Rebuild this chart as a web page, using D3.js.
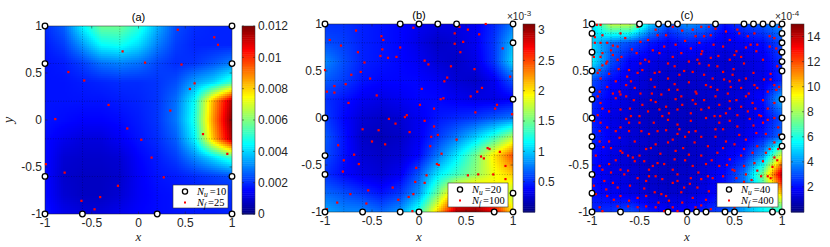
<!DOCTYPE html>
<html><head><meta charset="utf-8">
<script src="https://cdn.jsdelivr.net/npm/d3@7"></script>
<style>body{margin:0;background:#fff}svg{display:block}</style>
</head><body>
<svg id="chart" width="830" height="247"></svg>
<script>
// ---------------- DATA ----------------
const axisTicks = [-1, -0.5, 0, 0.5, 1];
const axisTickLabels = ["-1", "-0.5", "0", "0.5", "1"];
const gridX = [-1, -0.8, -0.6, -0.4, -0.2, 0, 0.2, 0.4, 0.6, 0.8, 1];
const gridY = [1, 0.8, 0.6, 0.4, 0.2, 0, -0.2, -0.4, -0.6, -0.8, -1];

// error field (a), units 1e-3
const fieldA = [
 [2.0,2.6,4.4,5.8,5.8,5.0,3.6,2.4,2.0,1.9,1.9],
 [1.8,2.2,3.3,4.5,4.7,4.1,3.0,2.2,1.9,1.9,1.9],
 [1.7,1.8,2.2,2.8,3.0,2.8,2.3,2.0,2.1,2.5,3.0],
 [1.7,1.7,1.8,1.9,2.0,2.0,2.1,2.4,3.4,4.0,5.2],
 [1.7,1.7,1.7,1.7,1.8,1.9,2.1,2.8,4.6,8.5,11.5],
 [1.7,1.6,1.5,1.5,1.6,1.8,2.1,2.9,4.8,8.8,12.0],
 [1.6,1.3,1.1,1.1,1.4,1.7,2.0,2.6,4.4,8.3,11.5],
 [1.6,1.0,0.9,0.9,1.0,1.5,1.8,2.2,3.1,4.1,5.2],
 [1.6,0.9,0.8,0.8,0.9,1.4,1.7,1.8,2.0,2.2,2.4],
 [1.6,1.0,0.8,0.8,1.0,1.4,1.6,1.7,1.8,1.9,2.0],
 [1.7,1.3,1.1,1.1,1.3,1.5,1.6,1.7,1.8,1.8,1.9]
];
// error field (b), units 1e-3
const fieldB = [
 [0.53,0.53,0.48,0.44,0.4,0.35,0.31,0.31,0.35,0.5,0.75],
 [0.62,0.57,0.48,0.44,0.4,0.31,0.22,0.26,0.35,0.55,0.95],
 [0.8,0.62,0.48,0.44,0.4,0.35,0.26,0.22,0.31,0.55,1.05],
 [0.66,0.57,0.44,0.4,0.4,0.4,0.35,0.26,0.22,0.35,0.65],
 [0.53,0.44,0.35,0.31,0.35,0.4,0.4,0.35,0.31,0.31,0.36],
 [0.57,0.4,0.26,0.22,0.26,0.35,0.45,0.5,0.55,0.65,0.75],
 [0.66,0.44,0.22,0.18,0.22,0.35,0.55,0.75,1.0,1.3,1.7],
 [0.62,0.44,0.26,0.22,0.26,0.4,0.75,1.1,1.5,2.0,2.5],
 [0.53,0.4,0.31,0.26,0.35,0.65,1.1,1.35,1.6,1.9,2.1],
 [0.7,0.62,0.53,0.44,0.55,0.85,1.5,2.2,2.3,2.0,1.7],
 [0.9,0.8,0.8,0.7,0.85,1.3,2.1,3.0,3.1,2.8,2.0]
];
// error field (c), units 1e-4
const fieldC = [
 [5.0,8.5,8.5,5.0,3.0,4.0,3.5,2.0,2.8,3.2,4.0],
 [5.0,3.5,3.0,2.2,1.8,2.2,2.0,1.5,1.8,2.0,3.0],
 [5.5,3.0,1.8,1.5,1.3,1.3,1.3,1.2,1.3,1.6,2.6],
 [3.0,2.0,1.5,1.2,1.1,1.1,1.2,1.2,1.2,1.5,2.4],
 [2.5,1.7,1.3,1.1,1.0,1.0,1.1,1.2,1.4,2.0,4.5],
 [2.3,1.5,1.2,1.0,1.0,1.0,1.1,1.2,1.3,1.8,3.0],
 [2.5,1.7,1.3,1.1,1.0,1.0,1.1,1.2,1.5,2.2,3.5],
 [2.1,1.5,1.2,1.1,1.0,1.0,1.2,1.6,2.2,4.0,9.0],
 [2.0,1.5,1.3,1.1,1.0,1.1,1.4,2.0,3.5,7.5,14.5],
 [2.1,1.7,1.5,1.2,1.1,1.2,1.5,2.2,3.5,6.0,10.5],
 [2.4,2.6,3.0,2.2,1.8,2.0,2.4,3.0,4.5,5.5,6.0]
];

const meshA = [-0.6, -0.2, 0.2, 0.6];
const meshB = [-0.8, -0.6, -0.4, -0.2, 0, 0.2, 0.4, 0.6, 0.8];
const meshC = [-0.9, -0.8, -0.7, -0.6, -0.5, -0.4, -0.3, -0.2, -0.1, 0, 0.1, 0.2, 0.3, 0.4, 0.5, 0.6, 0.7, 0.8, 0.9];

const circlesA = [[-1,1],[1,1],[-1,0.6],[1,0.6],[-1,-0.6],[1,-0.6],[-1,-1],[-0.6,-1],[0.2,-1],[1,-1]];
const dotsA = [[0.42,0.96],[0.81,0.88],[0.85,0.80],[-0.17,0.73],[0.07,0.61],[0.46,0.59],[-0.75,0.51],[-0.58,0.42],[0.60,0.39],[0.55,0.33],[-0.32,0.16],[0.34,0.10],[-0.89,0.01],[-0.12,-0.09],[0.69,-0.15],[0.03,-0.21],[0.95,-0.36],[0.14,-0.40],[-0.99,-0.47],[-0.79,-0.56],[0.27,-0.61],[-0.22,-0.70],[-0.41,-0.82],[-0.61,-0.86],[-0.47,-0.95]];

const circlesB = [[-1,1],[-0.2,1],[0,1],[0.2,1],[0.4,1],[1,1],[1,0.8],[1,0.2],[1,-0.8],[1,-1],[-1,0],[-1,-0.4],[-1,-0.6],[-1,-1],[-0.6,-1],[-0.2,-1],[0,-1],[0.8,-1]];
const dotsB = [[-0.67,0.93],[-0.95,0.83],[-0.83,0.77],[-0.40,0.87],[-0.38,0.83],[-0.65,0.70],[-0.58,0.59],[-0.20,0.75],[-0.41,0.66],[-0.33,0.64],[-0.24,0.65],[-0.06,0.96],[0.06,0.61],[0.10,0.57],[0.38,0.90],[0.52,0.94],[0.64,0.89],[0.71,1.0],[0.38,0.79],[0.47,0.81],[0.44,0.70],[0.89,0.74],[0.34,0.55],[0.59,0.52],[-1.0,0.51],[-0.72,0.46],[-0.62,0.49],[-0.52,0.42],[-0.90,0.34],[-0.78,0.36],[-0.98,0.28],[-0.90,0.27],[0.30,0.43],[0.27,0.39],[0.03,0.31],[0.67,0.32],[0.97,0.44],[-0.45,0.24],[-0.75,0.16],[0.01,0.14],[0.16,0.10],[0.23,0.20],[0.26,0.21],[0.55,0.23],[0.60,0.06],[0.81,0.10],[0.83,0.14],[0.99,0.04],[-0.15,0.01],[-0.13,0.03],[-0.32,-0.01],[0.06,-0.03],[-0.25,-0.06],[-0.60,-0.12],[-0.43,-0.13],[-0.10,-0.15],[0.16,-0.09],[0.13,-0.20],[0.20,-0.18],[0.40,-0.23],[-0.50,-0.25],[-0.86,-0.29],[-0.36,-0.28],[-0.69,-0.39],[-0.80,-0.45],[-0.64,-0.49],[-0.81,-0.57],[0.73,-0.32],[0.75,-0.33],[0.86,-0.36],[0.66,-0.41],[0.69,-0.43],[0.24,-0.38],[-0.03,-0.53],[0.92,-0.51],[0.21,-0.50],[0.52,-0.61],[0.79,-0.60],[0.92,-0.65],[0.08,-0.61],[-0.04,-0.68],[-0.28,-0.74],[-0.54,-0.77],[-0.73,-0.81],[-0.11,-0.84],[-0.22,-0.87],[-0.56,-0.91],[-0.87,-0.90],[-0.98,-0.97],[0.93,-0.92],[0.48,-0.88],[-0.06,-0.81],[0.19,-0.49],[0.06,-0.69],[-0.07,-0.99],[0.63,-0.60],[0.43,0.97],[0.62,0.28],[-0.39,0.73],[0.12,-0.30]];

const circlesC = [[-1,1],[-0.5,1],[-0.3,1],[-0.2,1],[-0.1,1],[0.3,1],[0.6,1],[0.7,1],[0.8,1],[0.9,1],[1,1],
 [-1,0.9],[-1,0.7],[-1,0.5],[-1,0.3],[-1,0.2],[-1,0],[-1,-0.2],[-1,-0.3],[-1,-0.6],[-1,-0.8],
 [1,0.9],[1,0.8],[1,0.7],[1,0.6],[1,0.5],[1,0.2],[1,0],[1,-0.2],[1,-0.3],
 [-1,-1],[-0.7,-1],[-0.2,-1],[0,-1],[0.1,-1],[0.2,-1],[0.4,-1],[0.5,-1],[0.9,-1],[1,-1]];
const dotsC = [
 [-0.95,0.99],[-0.91,0.99],[-0.52,0.97],[-0.89,0.88],[-0.70,0.90],[-0.49,0.81],[-0.97,0.80],[-0.91,0.80],[-0.84,0.80],[-0.78,0.77],[-0.80,0.72],[-0.73,0.76],[-0.89,0.69],[-0.91,0.65],[-0.78,0.67],[-0.69,0.65],[-0.84,0.60],[-0.89,0.56],[-0.92,0.51],[-0.94,0.48],[-0.91,0.42],[-0.85,0.58],[-0.73,0.62],[-0.53,0.69],[-0.41,0.83],[-0.33,0.94],[-0.31,0.88],[-0.22,0.88],[-0.24,0.76],[-0.12,0.78],[-0.29,0.69],[-0.49,0.58],[-0.47,0.51],[-0.52,0.48],[-0.34,0.48],[-0.29,0.49],[-0.20,0.42],[-0.08,0.46],[-0.63,0.44],[-0.59,0.39],[-0.75,0.39],[-0.64,0.35],[-0.71,0.28],[-0.84,0.33],[-0.78,0.26],[-0.92,0.28],[-0.94,0.23],[-0.91,0.16],[-0.89,0.10],[-0.75,0.21],[-0.70,0.25],[-0.64,0.23],[-0.49,0.26],[-0.56,0.19],[-0.47,0.14],[-0.38,0.19],[-0.33,0.17],[-0.29,0.09],[-0.22,0.12],[-0.19,0.05],[-0.10,0.09],[-0.41,0.07],[-0.50,0.02],[-0.59,0.02],[-0.70,0.09],[-0.82,0.07],[-0.94,0.03],[-0.10,0.30],[-0.19,0.30],[-0.34,0.33],[-0.27,0.25],[-0.06,0.23],[-0.61,0.51],[-0.38,0.41],[-0.13,0.55],[-0.06,0.69],[-0.15,0.65],[-0.40,0.60],
 [-0.97,0.86],[-0.65,0.85],[-0.58,0.73],[-0.36,0.72],[-0.02,0.82],[-0.05,0.93],[-0.15,0.97],[-0.44,0.62],[-0.20,0.58],[-0.03,0.50],[-0.13,0.36],[-0.55,0.32],[-0.05,0.14],[-0.26,0.02],[-0.72,0.52],[-0.82,0.47],[-0.98,0.65],[-0.37,0.26],[-0.60,0.10],[-0.12,0.20],
 [0.15,0.97],[0.23,0.97],[0.06,0.94],[0.09,0.87],[0.18,0.87],[0.25,0.88],[0.13,0.80],[0.04,0.74],[0.16,0.71],[0.38,0.76],[0.41,0.92],[0.53,0.94],[0.55,0.90],[0.64,0.87],[0.71,0.90],[0.74,0.78],[0.67,0.78],[0.87,0.87],[0.92,0.85],[0.87,0.76],[0.94,0.74],[0.73,0.71],[0.52,0.71],[0.50,0.67],[0.57,0.65],[0.45,0.62],[0.25,0.64],[0.11,0.62],[0.13,0.58],[0.23,0.56],[0.32,0.55],[0.06,0.49],[0.18,0.46],[0.27,0.42],[0.38,0.49],[0.39,0.41],[0.48,0.46],[0.62,0.42],[0.71,0.35],[0.57,0.32],[0.45,0.39],[0.46,0.33],[0.32,0.30],[0.20,0.35],[0.09,0.28],[0.06,0.19],[0.18,0.19],[0.30,0.23],[0.43,0.26],[0.52,0.19],[0.62,0.23],[0.74,0.32],[0.81,0.41],[0.88,0.41],[0.92,0.35],[0.85,0.28],[0.94,0.30],[0.97,0.33],[0.80,0.19],[0.69,0.16],[0.57,0.12],[0.45,0.10],[0.34,0.14],[0.23,0.11],[0.15,0.09],[0.04,0.05],[0.41,0.05],[0.64,0.07],[0.92,0.16],[0.78,0.02],[0.29,0.02],[0.53,0.03],
 [0.30,0.95],[0.45,0.83],[0.33,0.66],[0.60,0.58],[0.80,0.62],[0.95,0.55],[0.02,0.38],[0.70,0.48],[0.55,0.40],[0.25,0.33],[0.85,0.10],[0.10,0.26],[0.35,0.02],[0.65,0.26],[0.97,0.97],[0.62,0.75],[0.02,0.60],[0.49,0.52],[0.76,0.03],[0.15,0.68],[0.88,0.47],[0.28,0.78],[0.97,0.70],[0.45,0.18],[0.09,0.15],[0.72,0.10],
 [-0.98,-0.03],[-0.91,-0.05],[-0.92,-0.14],[-0.84,-0.10],[-0.75,-0.14],[-0.64,-0.01],[-0.61,-0.05],[-0.61,-0.14],[-0.71,-0.21],[-0.48,-0.14],[-0.40,-0.17],[-0.31,-0.14],[-0.22,-0.13],[-0.10,-0.07],[-0.08,-0.12],[-0.10,-0.17],[-0.82,-0.25],[-0.80,-0.32],[-0.70,-0.35],[-0.68,-0.37],[-0.62,-0.40],[-0.57,-0.42],[-0.50,-0.40],[-0.43,-0.33],[-0.38,-0.32],[-0.33,-0.28],[-0.20,-0.26],[-0.15,-0.23],[-0.04,-0.32],[-0.96,-0.40],[-0.92,-0.51],[-0.89,-0.55],[-0.82,-0.49],[-0.70,-0.55],[-0.62,-0.56],[-0.55,-0.46],[-0.45,-0.46],[-0.40,-0.55],[-0.36,-0.51],[-0.31,-0.48],[-0.24,-0.49],[-0.13,-0.44],[-0.10,-0.60],[-0.98,-0.62],[-0.87,-0.67],[-0.78,-0.69],[-0.73,-0.74],[-0.66,-0.60],[-0.52,-0.64],[-0.43,-0.67],[-0.33,-0.62],[-0.26,-0.65],[-0.15,-0.69],[-0.10,-0.67],[-0.06,-0.79],[-0.03,-0.74],[-0.96,-0.81],[-0.85,-0.76],[-0.84,-0.83],[-0.77,-0.87],[-0.70,-0.83],[-0.61,-0.88],[-0.52,-0.85],[-0.43,-0.83],[-0.34,-0.79],[-0.27,-0.81],[-0.22,-0.83],[-0.19,-0.88],[-0.15,-0.95],[-0.92,-0.95],[-0.73,-0.94],[-0.62,-0.94],[-0.52,-0.95],[-0.43,-0.94],[-0.33,-0.95],[-0.24,-0.99],[-0.10,-0.99],[-0.89,-0.99],
 [-0.55,-0.25],[-0.28,-0.38],[-0.88,-0.31],[-0.75,-0.45],[-0.45,-0.75],[-0.15,-0.55],[-0.02,-0.45],[-0.60,-0.72],[-0.98,-0.72],[-0.30,-0.90],[-0.05,-0.90],[-0.50,-0.05],[-0.20,-0.02],[-0.92,-0.25],[-0.40,-0.62],[-0.70,-0.10],[-0.12,-0.35],[-0.80,-0.58],[-0.02,-0.20],[-0.35,-0.05],
 [0.04,-0.03],[0.20,0.00],[0.34,-0.05],[0.45,-0.03],[0.66,-0.01],[0.80,-0.05],[0.92,0.00],[0.09,-0.14],[0.30,-0.12],[0.38,-0.12],[0.53,-0.09],[0.73,-0.16],[0.83,-0.17],[0.96,-0.10],[0.08,-0.26],[0.22,-0.30],[0.41,-0.25],[0.50,-0.28],[0.62,-0.23],[0.74,-0.30],[0.87,-0.33],[0.92,-0.26],[0.02,-0.39],[0.15,-0.40],[0.32,-0.37],[0.45,-0.44],[0.57,-0.40],[0.69,-0.37],[0.83,-0.37],[0.06,-0.51],[0.20,-0.49],[0.34,-0.51],[0.48,-0.55],[0.60,-0.51],[0.71,-0.48],[0.80,-0.46],[0.04,-0.64],[0.15,-0.65],[0.27,-0.64],[0.38,-0.62],[0.52,-0.64],[0.62,-0.60],[0.74,-0.56],[0.85,-0.62],[0.11,-0.74],[0.23,-0.78],[0.06,-0.85],[0.20,-0.87],[0.09,-0.95],[0.25,-0.97],[0.50,-0.95],[0.66,-0.94],[0.80,-0.92],[0.90,-0.94],[0.94,-0.85],[0.92,-0.71],
 [0.95,-0.45],[0.90,-0.52],[0.97,-0.60],[0.88,-0.64],[0.96,-0.33],[0.92,-0.42],[0.78,-0.62],[0.68,-0.66],[0.60,-0.68],[0.50,-0.56],[0.42,-0.50],[0.26,-0.45],[0.15,-0.20],[0.30,-0.20],[0.55,-0.18],[0.70,-0.08],[0.85,-0.02],[0.12,-0.58],[0.03,-0.70],[0.22,-0.62],[0.60,-0.33],[0.38,-0.32],[0.02,-0.15],[0.97,-0.18],[0.15,-0.93]
];

const cbTicksA = [0, 2, 4, 6, 8, 10, 12];
const cbLabelsA = ["0", "0.002", "0.004", "0.006", "0.008", "0.01", "0.012"];
const cbTicksB = [0.5, 1, 1.5, 2, 2.5, 3];
const cbLabelsB = ["0.5", "1", "1.5", "2", "2.5", "3"];
const cbTicksC = [2, 4, 6, 8, 10, 12, 14];
const cbLabelsC = ["2", "4", "6", "8", "10", "12", "14"];
const titles = ["(a)", "(b)", "(c)"];
const nuLabels = ["=10", "=20", "=40"];
const nfLabels = ["=25", "=100", "=400"];

// ---------------- LAYOUT ----------------
const panels = [
 {title:titles[0], L:45, R:232, T:26, B:214, cbL:242, cbR:255, field:fieldA, dom:[0,12], cbT:cbTicksA, cbLab:cbLabelsA, mesh:meshA, circ:circlesA, dots:dotsA, nu:nuLabels[0], nf:nfLabels[0], lg:{x:173,y:185,w:55,h:23}, exp:null, ylab:true},
 {title:titles[1], L:325, R:513, T:24, B:212, cbL:523, cbR:535, field:fieldB, dom:[0,3.1], cbT:cbTicksB, cbLab:cbLabelsB, mesh:meshB, circ:circlesB, dots:dotsB, nu:nuLabels[1], nf:nfLabels[1], lg:{x:448,y:183,w:60,h:24}, exp:{x:507, e:"-3"}, ylab:false},
 {title:titles[2], L:592, R:782, T:24, B:212, cbL:791, cbR:804, field:fieldC, dom:[0,15], cbT:cbTicksC, cbLab:cbLabelsC, mesh:meshC, circ:circlesC, dots:dotsC, nu:nuLabels[2], nf:nfLabels[2], lg:{x:717,y:183,w:61,h:24}, exp:{x:775, e:"-4"}, ylab:false}
];

function jetRGB(t){
  t = Math.max(0, Math.min(1, t));
  const c = v => Math.round(255 * Math.max(0, Math.min(1, v)));
  return `rgb(${c(1.5 - Math.abs(4*t - 3))},${c(1.5 - Math.abs(4*t - 2))},${c(1.5 - Math.abs(4*t - 1))})`;
}

const svg = d3.select("#chart");
const FONT = "'Liberation Sans', Arial, Helvetica, sans-serif";
const SERIF = "'Liberation Serif', 'Times New Roman', serif";
const defs = svg.append("defs");

panels.forEach((p, pi) => {
  const x = d3.scaleLinear().domain([-1, 1]).range([p.L, p.R]);
  const y = d3.scaleLinear().domain([-1, 1]).range([p.B, p.T]);
  const col = d3.scaleLinear().domain(p.dom).range([0, 1]).clamp(true);
  const gi = d3.scaleLinear().domain([gridX[0], gridX[gridX.length-1]]).range([0, gridX.length-1]).clamp(true);
  const gj = d3.scaleLinear().domain([gridY[0], gridY[gridY.length-1]]).range([0, gridY.length-1]).clamp(true);
  const n = gridX.length, m = gridY.length, f = p.field;
  const val = (dx, dy) => {
    const fx = Math.min(n - 1.0001, gi(dx)), fy = Math.min(m - 1.0001, gj(dy));
    const i0 = Math.floor(fx), j0 = Math.floor(fy), tx = fx - i0, ty = fy - j0;
    return (f[j0][i0]*(1-tx) + f[j0][i0+1]*tx)*(1-ty) + (f[j0+1][i0]*(1-tx) + f[j0+1][i0+1]*tx)*ty;
  };

  defs.append("clipPath").attr("id", "clip" + pi).append("rect")
    .attr("x", p.L).attr("y", p.T).attr("width", p.R - p.L).attr("height", p.B - p.T);

  const S = 2;
  const cells = [];
  for (let cy = p.T; cy < p.B; cy += S) for (let cx = p.L; cx < p.R; cx += S) cells.push([cx, cy]);
  svg.append("g").attr("clip-path", `url(#clip${pi})`).attr("shape-rendering", "crispEdges")
    .selectAll("rect").data(cells).join("rect")
    .attr("x", d => d[0]).attr("y", d => d[1]).attr("width", S + 0.4).attr("height", S + 0.4)
    .attr("fill", d => jetRGB(col(val(x.invert(d[0] + S/2), y.invert(d[1] + S/2)))));

  const g = svg.append("g");
  g.selectAll(".mx").data(p.mesh).join("line")
    .attr("x1", d => x(d)).attr("x2", d => x(d)).attr("y1", p.T).attr("y2", p.B)
    .attr("stroke", "#000").attr("stroke-width", 0.6).attr("stroke-dasharray", "1,1.6").attr("opacity", 0.45);
  g.selectAll(".my").data(p.mesh).join("line")
    .attr("y1", d => y(d)).attr("y2", d => y(d)).attr("x1", p.L).attr("x2", p.R)
    .attr("stroke", "#000").attr("stroke-width", 0.6).attr("stroke-dasharray", "1,1.6").attr("opacity", 0.45);
  g.append("rect").attr("x", p.L).attr("y", p.T).attr("width", p.R - p.L).attr("height", p.B - p.T)
    .attr("fill", "none").attr("stroke", "#222").attr("stroke-width", 0.5);

  const tl = 2.5;
  axisTicks.forEach(t => {
    g.append("line").attr("x1", x(t)).attr("x2", x(t)).attr("y1", p.B).attr("y2", p.B - tl).attr("stroke", "#222").attr("stroke-width", 0.5);
    g.append("line").attr("x1", x(t)).attr("x2", x(t)).attr("y1", p.T).attr("y2", p.T + tl).attr("stroke", "#222").attr("stroke-width", 0.5);
    g.append("line").attr("y1", y(t)).attr("y2", y(t)).attr("x1", p.L).attr("x2", p.L + tl).attr("stroke", "#222").attr("stroke-width", 0.5);
    g.append("line").attr("y1", y(t)).attr("y2", y(t)).attr("x1", p.R).attr("x2", p.R - tl).attr("stroke", "#222").attr("stroke-width", 0.5);
  });
  g.selectAll(".xl").data(axisTicks).join("text")
    .attr("x", d => x(d)).attr("y", p.B + 12.5).attr("text-anchor", "middle")
    .attr("font-family", FONT).attr("font-size", 12).attr("fill", "#262626")
    .text((d, i) => axisTickLabels[i]);
  g.selectAll(".yl").data(axisTicks).join("text")
    .attr("x", p.L - 3).attr("y", d => y(d)).attr("dy", "0.36em").attr("text-anchor", "end")
    .attr("font-family", FONT).attr("font-size", 12).attr("fill", "#262626")
    .text((d, i) => axisTickLabels[i]);
  g.append("text").attr("x", (p.L + p.R)/2).attr("y", 241).attr("text-anchor", "middle")
    .attr("font-family", SERIF).attr("font-style", "italic").attr("font-size", 13).attr("fill", "#262626").text("x");
  if (p.ylab) {
    g.append("text").attr("transform", `translate(13,${(p.T + p.B)/2}) rotate(-90)`).attr("text-anchor", "middle")
      .attr("font-family", SERIF).attr("font-style", "italic").attr("font-size", 14).attr("fill", "#262626").text("y");
  }
  g.append("text").attr("x", (p.L + p.R)/2).attr("y", p.T - 5).attr("text-anchor", "middle")
    .attr("font-family", FONT).attr("font-size", 11).attr("fill", "#000").text(p.title);

  g.selectAll(".dot").data(p.dots).join("rect")
    .attr("x", d => x(d[0]) - 1.1).attr("y", d => y(d[1]) - 1.1).attr("width", 2.2).attr("height", 2.2)
    .attr("fill", "#ff0000");
  g.selectAll(".circ").data(p.circ).join("circle")
    .attr("cx", d => x(d[0])).attr("cy", d => y(d[1])).attr("r", 2.8)
    .attr("fill", "#fff").attr("stroke", "#000").attr("stroke-width", 1.3);

  const lg = p.lg;
  g.append("rect").attr("x", lg.x).attr("y", lg.y).attr("width", lg.w).attr("height", lg.h)
    .attr("fill", "#fff").attr("stroke", "#333").attr("stroke-width", 0.6);
  g.append("circle").attr("cx", lg.x + 12).attr("cy", lg.y + 6.5).attr("r", 2.6)
    .attr("fill", "#fff").attr("stroke", "#000").attr("stroke-width", 1.3);
  g.append("rect").attr("x", lg.x + 11).attr("y", lg.y + 16.5).attr("width", 2).attr("height", 2).attr("fill", "#ff0000");
  [[p.nu, "u", 6.5], [p.nf, "f", 17.5]].forEach(([lab, sub, dy]) => {
    const t = g.append("text").attr("x", lg.x + 24).attr("y", lg.y + dy + 3.5)
      .attr("font-family", SERIF).attr("font-size", 10.5).attr("fill", "#000");
    t.append("tspan").attr("font-style", "italic").text("N");
    t.append("tspan").attr("font-style", "italic").attr("font-size", 7.5).attr("dy", 2).text(sub);
    t.append("tspan").attr("dy", -2).attr("dx", 2).text(lab);
  });

  const cy = d3.scaleLinear().domain(p.dom).range([p.B, p.T]);
  const steps = d3.range(0, 100);
  const stepH = (p.B - p.T) / steps.length;
  svg.append("g").selectAll("rect").data(steps).join("rect")
    .attr("x", p.cbL).attr("width", p.cbR - p.cbL)
    .attr("y", i => p.B - (i + 1) * stepH).attr("height", stepH + 0.5)
    .attr("fill", i => jetRGB((i + 0.5) / steps.length));
  const cg = svg.append("g");
  cg.append("rect").attr("x", p.cbL).attr("y", p.T).attr("width", p.cbR - p.cbL).attr("height", p.B - p.T)
    .attr("fill", "none").attr("stroke", "#333").attr("stroke-width", 0.5);
  p.cbT.forEach((t, i) => {
    cg.append("line").attr("x1", p.cbR).attr("x2", p.cbR - 2).attr("y1", cy(t)).attr("y2", cy(t)).attr("stroke", "#222").attr("stroke-width", 0.5);
    cg.append("line").attr("x1", p.cbL).attr("x2", p.cbL + 2).attr("y1", cy(t)).attr("y2", cy(t)).attr("stroke", "#222").attr("stroke-width", 0.5);
    cg.append("text").attr("x", p.cbR + 3).attr("y", cy(t)).attr("dy", "0.36em")
      .attr("font-family", FONT).attr("font-size", 12).attr("fill", "#262626").text(p.cbLab[i]);
  });
  if (p.exp) {
    const t = cg.append("text").attr("x", p.exp.x).attr("y", p.T - 4)
      .attr("font-family", FONT).attr("font-size", 10).attr("fill", "#262626");
    t.append("tspan").text("\u00d710");
    t.append("tspan").attr("dy", -4).attr("font-size", 8).text(p.exp.e);
  }
});
</script>
</body></html>
